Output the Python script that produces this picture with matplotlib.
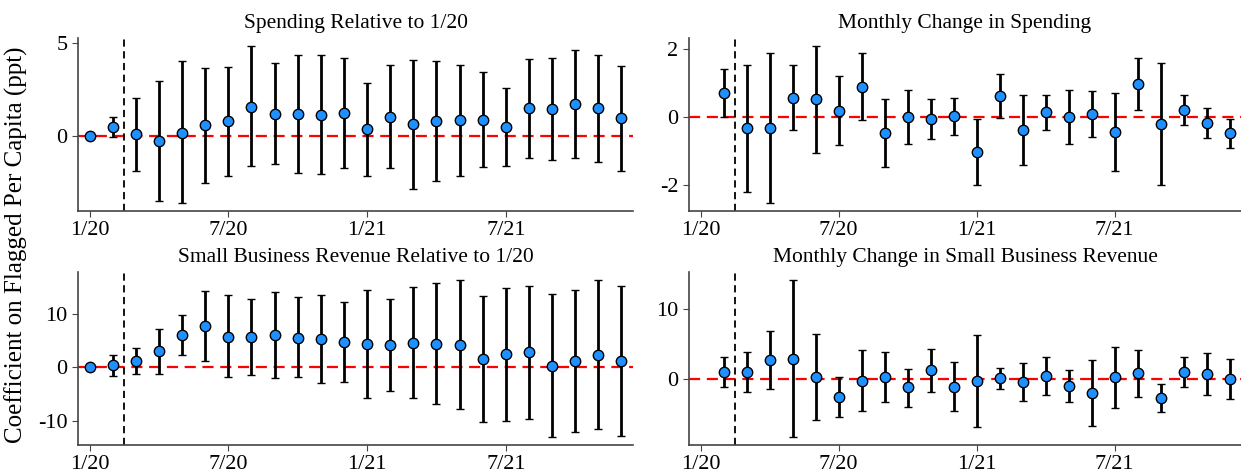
import numpy as np
import matplotlib
matplotlib.use('Agg')
import matplotlib.pyplot as plt

plt.rcParams['font.family'] = ['Liberation Serif', 'DejaVu Serif']
plt.rcParams['axes.unicode_minus'] = False

# months since 1/20 (0 = 1/20, 23 = 12/21)
months = list(range(24))
tick_pos = [0, 6, 12, 18]
tick_labels = ['1/20', '7/20', '1/21', '7/21']

# Spending relative to 1/20
spend_lvl = [0.0, 0.45, 0.07, -0.30, 0.16, 0.56, 0.77, 1.56, 1.17, 1.15, 1.10, 1.19,
             0.34, 1.00, 0.61, 0.77, 0.83, 0.86, 0.47, 1.46, 1.44, 1.69, 1.47, 0.92]
spend_lvl_hi = [0.0, 1.00, 2.05, 2.95, 4.00, 3.67, 3.70, 4.84, 3.92, 4.32, 4.32, 4.17,
                2.86, 3.80, 4.10, 4.00, 3.83, 3.45, 2.59, 4.14, 4.19, 4.64, 4.33, 3.74]
spend_lvl_lo = [0.0, -0.10, -1.92, -3.52, -3.65, -2.54, -2.16, -1.67, -1.56, -2.01, -2.09, -1.78,
                -2.16, -1.78, -2.91, -2.46, -2.18, -1.69, -1.64, -1.22, -1.31, -1.24, -1.42, -1.91]

# Monthly change in spending (starts 2/20)
spend_chg = [0.71, -0.34, -0.34, 0.55, 0.51, 0.18, 0.88, -0.49, 0.00, -0.08, 0.01, -1.05,
             0.61, -0.40, 0.13, -0.01, 0.08, -0.45, 0.97, -0.21, 0.19, -0.18, -0.49]
spend_chg_hi = [1.39, 1.51, 1.87, 1.51, 2.08, 1.19, 1.88, 0.51, 0.79, 0.51, 0.55, -0.08,
                1.24, 0.64, 0.64, 0.77, 0.76, 0.70, 1.73, 1.59, 0.63, 0.26, -0.06]
spend_chg_lo = [0.00, -2.20, -2.54, -0.40, -1.06, -0.84, -0.09, -1.48, -0.79, -0.67, -0.53, -2.02,
                -0.03, -1.42, -0.38, -0.79, -0.61, -1.60, 0.20, -2.00, -0.25, -0.62, -0.92]

# Small business revenue relative to 1/20
rev_lvl = [0.0, 0.44, 1.19, 3.0, 6.1, 7.75, 5.75, 5.6, 6.0, 5.5, 5.25, 4.75,
           4.4, 4.1, 4.6, 4.4, 4.25, 1.56, 2.44, 2.8, 0.25, 1.1, 2.3, 1.25]
rev_lvl_hi = [0.0, 2.4, 3.6, 7.25, 9.9, 14.4, 13.5, 12.75, 14.1, 13.1, 13.6, 12.25,
              14.55, 12.75, 15.05, 15.8, 16.3, 13.4, 14.9, 15.3, 13.75, 14.5, 16.4, 15.25]
rev_lvl_lo = [0.0, -1.7, -1.2, -1.2, 2.4, 1.1, -1.9, -1.4, -2.1, -1.9, -3.0, -2.7,
              -5.75, -4.5, -5.8, -6.9, -7.75, -10.3, -10.0, -9.7, -13.1, -12.1, -11.6, -12.8]

# Monthly change in small business revenue (starts 2/20)
rev_chg = [1.0, 0.95, 2.76, 2.9, 0.29, -2.52, -0.29, 0.24, -1.19, 1.24, -1.1, -0.24,
           0.1, -0.43, 0.48, -0.95, -2.0, 0.24, 0.86, -2.67, 1.0, 0.76, 0.0]
rev_chg_hi = [3.1, 3.9, 6.9, 14.2, 6.48, 0.33, 4.1, 3.86, 1.48, 4.33, 2.38, 6.33,
              1.62, 2.29, 3.14, 1.33, 2.76, 4.62, 4.19, -0.67, 3.14, 3.71, 2.9]
rev_chg_lo = [-1.15, -1.9, -1.38, -8.33, -5.9, -5.43, -4.6, -3.33, -3.95, -1.86, -4.57, -6.86,
              -1.43, -3.1, -2.33, -3.24, -6.76, -4.14, -2.52, -4.71, -1.14, -2.24, -2.86]

W, H = 1241, 473
fig = plt.figure(figsize=(W / 100, H / 100), dpi=100)


def panel(rect, x, y, lo, hi, title, yticks):
    ax = fig.add_axes(rect)
    y = np.array(y)
    err = np.vstack([y - np.array(lo), np.array(hi) - y])
    ax.axhline(0, color='red', ls=(0, (5, 3)), lw=1.6, zorder=1)
    ax.errorbar(x, y, yerr=err, fmt='o', color='black', ecolor='black',
                elinewidth=2, capsize=3, capthick=1.8, markersize=7.5,
                markerfacecolor='#1E90FF', markeredgecolor='black',
                markeredgewidth=1.0, zorder=3)
    ax.axvline(1.5, color='black', ls=(0, (4, 2.5)), lw=1.3, zorder=2)
    ax.set_xlim(-0.5, 23.5)
    ax.set_xticks(tick_pos)
    ax.set_xticklabels(tick_labels)
    ax.set_yticks(yticks)
    ax.set_title(title, fontsize=15.5, pad=7)
    for s in ['top', 'right']:
        ax.spines[s].set_visible(False)
    for s in ['left', 'bottom']:
        ax.spines[s].set_color('#444444')
        ax.spines[s].set_linewidth(1.2)
    ax.tick_params(labelsize=16, color='#444444', length=4)
    return ax


panel([78 / W, (H - 211) / H, 555 / W, 173 / H], months, spend_lvl, spend_lvl_lo,
      spend_lvl_hi, 'Spending Relative to 1/20', [0, 5])
panel([689 / W, (H - 211) / H, 552 / W, 173 / H], months[1:], spend_chg, spend_chg_lo,
      spend_chg_hi, 'Monthly Change in Spending', [-2, 0, 2])
panel([78 / W, (H - 445) / H, 555 / W, 173 / H], months, rev_lvl, rev_lvl_lo,
      rev_lvl_hi, 'Small Business Revenue Relative to 1/20', [-10, 0, 10])
panel([689 / W, (H - 445) / H, 552 / W, 173 / H], months[1:], rev_chg, rev_chg_lo,
      rev_chg_hi, 'Monthly Change in Small Business Revenue', [0, 10])

fig.text(16 / W, 1 - 245 / H, 'Coefficient on Flagged Per Capita (ppt)', rotation=90,
         va='center', ha='center', fontsize=18)

fig.savefig('out.png', dpi=100)
